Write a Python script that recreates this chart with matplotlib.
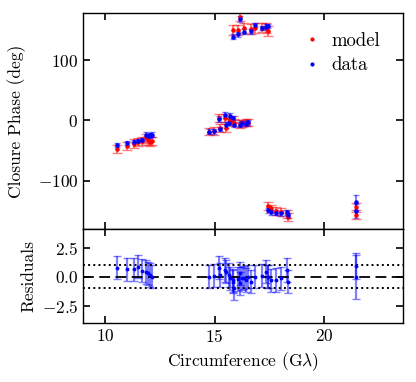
import numpy as np
import matplotlib.pyplot as plt
from matplotlib.lines import Line2D

plt.rcParams['font.family'] = 'serif'
plt.rcParams['font.serif'] = ['cmr10']
plt.rcParams['mathtext.fontset'] = 'cm'
plt.rcParams['axes.formatter.use_mathtext'] = True
plt.rcParams['axes.unicode_minus'] = True

# circumference (G lambda) of each triangle
circ = [10.53, 11.0, 11.34, 11.52, 11.68, 11.87, 11.95, 12.03, 12.15,
        14.74, 14.95, 15.23, 15.2, 15.49, 15.52, 15.66, 15.72, 15.84, 15.9, 16.15, 16.27, 16.42, 16.53,
        15.84, 16.07, 16.15, 16.35, 16.66, 16.86, 17.18, 17.36, 17.45,
        17.44, 17.55, 17.82, 18.03, 18.29, 18.35,
        21.45, 21.45]

# closure phases (deg)
data_cp = [-41, -37.5, -35, -33.6, -32, -24, -26, -25, -24,
           -18.7, -18, -14.3, 2.8, 8.3, -8.3, -4.4, 6.6, 3.9, -7, -7, -4.4, -5.5, -3.3,
           138.8, 142.7, 168, 147, 148, 158, 153, 155, 156.5,
           -148.8, -152, -153, -154, -152, -157.6,
           -136, -150]
data_err = [3, 3, 3, 3, 3, 4, 4, 4, 4,
            4, 4, 4, 5, 5, 5, 4, 5, 4, 4, 4, 4, 4, 4,
            4, 4, 5, 4, 4, 4, 4, 4, 4,
            4, 4, 4, 4, 4, 4,
            12, 12]

model_cp = [-47, -42, -38.6, -36, -34, -30, -33, -35, -34,
            -18.7, -17.5, -12.7, 4, 3.9, -12.7, -2, 0, 1, -4, -6, -5, -4, -4,
            150, 150, 172, 152.6, 152, 153, 153.7, 152.6, 148,
            -142, -146, -150, -152, -155, -160,
            -143, -157]
model_err = [7, 7, 7, 7, 7, 7, 7, 7, 7,
             6, 6, 6, 6, 6, 6, 6, 6, 6, 6, 6, 6, 6, 6,
             8, 8, 8, 8, 8, 8, 8, 8, 8,
             6, 6, 6, 6, 6, 6,
             6, 6]

resid = [0.77, 0.63, 0.63, 0.86, 0.5, 0.4, 0.3, 0.15, 0.0,
         0.0, 0.1, 0.14, 0.77, 0.57, 0.43, 0.14, -0.14, -0.43, -1.0, -0.57, -0.14, -0.29, 0.0,
         -0.3, -0.2, 0.3, -0.1, -0.43, 0.0, 0.1, 0.43, 0.0,
         0.0, -0.3, -0.29, -0.14, 0.57, -0.43,
         0.9, 0.0]
resid_err = [1.0] * 38 + [1.1, 1.9]

fig = plt.figure(figsize=(4.16, 3.82), dpi=100)
ax1 = fig.add_axes([0.2, 0.4005, 0.769, 0.5655])
ax2 = fig.add_axes([0.2, 0.154, 0.769, 0.2465], sharex=ax1)

ax1.errorbar(circ, model_cp, yerr=model_err, fmt='.', color='red', ms=4.5,
             ecolor=(1, 0, 0, 0.5), elinewidth=1.5, capsize=3.5)
ax1.errorbar(circ, data_cp, yerr=data_err, fmt='.', color='blue', ms=4.5,
             ecolor=(0, 0, 1, 0.5), elinewidth=1.5, capsize=2.5)
ax1.set_ylim(-180, 178)
ax1.set_yticks([-100, 0, 100])
ax1.set_ylabel('Closure Phase (deg)', fontsize=12.5, labelpad=8)
handles = [Line2D([], [], ls='none', marker='.', color='red', ms=4),
           Line2D([], [], ls='none', marker='.', color='blue', ms=4)]
ax1.legend(handles, ['model', 'data'], loc='upper right', frameon=False, fontsize=13.5,
           handlelength=1, handletextpad=0.5, labelspacing=0.35,
           borderaxespad=0.5, bbox_to_anchor=(0.98, 0.99))

ax2.errorbar(circ, resid, yerr=resid_err, fmt='.', color='blue', ms=3.5,
             ecolor=(0, 0, 1, 0.5), elinewidth=1.6, capsize=3)
ax2.axhline(0, color='black', ls='--', lw=1.3, dashes=(6, 3))
ax2.axhline(1, color='black', ls=':', lw=1.4)
ax2.axhline(-1, color='black', ls=':', lw=1.4)
ax2.set_ylim(-4, 4.1)
ax2.set_yticks([-2.5, 0.0, 2.5])
ax2.set_ylabel('Residuals', fontsize=12.5, labelpad=4)
ax2.set_xlim(9, 23.6)
ax2.set_xticks([10, 15, 20])
ax2.set_xlabel(r'Circumference (G$\lambda$)', fontsize=12.5)

for ax in (ax1, ax2):
    ax.tick_params(direction='in', top=True, right=True, length=5, width=1.2, labelsize=12.5)
    for s in ax.spines.values():
        s.set_linewidth(1.0)
ax1.tick_params(labelbottom=False)

fig.savefig('out.png', dpi=100)
